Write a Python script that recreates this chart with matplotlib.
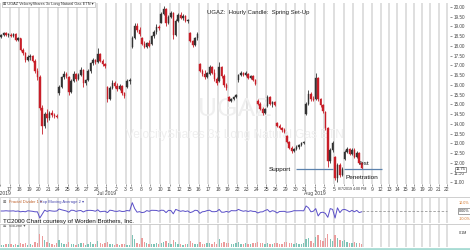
import matplotlib
matplotlib.use('Agg')
import matplotlib.pyplot as plt
import matplotlib.transforms as mtrans
import numpy as np

plt.rcParams['font.family'] = ['Liberation Sans', 'DejaVu Sans']

# ---------------- data ----------------
data_days = ['6/14', '6/17', '6/18', '6/19', '6/20', '6/21', '6/24', '6/25', '6/26', '6/27', '6/28',
             '7/1', '7/2', '7/3', '7/5', '7/8', '7/9', '7/10', '7/11', '7/12', '7/15', '7/16', '7/17',
             '7/18', '7/19', '7/22', '7/23', '7/24', '7/25', '7/26', '7/29', '7/30', '7/31', '8/1',
             '8/2', '8/5', '8/6', '8/7']
day_hours = [7] * 13 + [4] + [7] * 24          # hourly bars per session (7/3 half day)
day_candles = [4] * 13 + [2] + [4] * 24        # candles drawn per session
future_days = ['8/8', '8/9', '8/12', '8/13', '8/14', '8/15', '8/16', '8/19', '8/20', '8/21', '8/22']
future_hours = [7, 6, 6, 6, 6, 6, 6, 6, 6, 6, 6]
hidden_day_labels = ['6/14', '8/6', '8/7', '8/8']

opens = [18.45, 18.55, 18.65, 18.55,  18.55, 18.50, 18.60, 18.30,  18.40, 17.80, 17.65, 17.30,
         17.45, 17.50, 17.25, 16.70,  16.40, 14.80, 13.90, 14.50,  14.30, 14.55, 14.45, 14.40,
         15.60, 15.90, 16.40, 16.55,  16.40, 15.65, 16.20, 16.55,  16.30, 16.50, 16.75, 16.10,
         16.25, 16.70, 17.10, 17.30,  17.15, 17.60, 17.25, 17.05,  15.90, 15.30, 15.85, 16.10,
         15.95, 15.80, 15.95, 15.60,  15.90, 16.20,  17.95, 18.40, 19.00, 18.80,
         18.40, 18.10, 17.95, 18.15,  18.10, 18.50, 18.70, 18.95,  19.20, 19.65, 19.90, 19.15,
         19.50, 19.70, 18.55, 19.30,  19.60, 19.45, 19.55, 19.30,  18.65, 18.25, 18.05, 18.40,
         17.05, 16.70, 16.55, 16.40,  16.55, 16.90, 16.60, 16.30,  16.20, 16.90, 16.45, 16.00,
         15.40, 15.20, 15.30, 15.40,  16.25, 16.50, 16.60, 16.50,  16.55, 16.35, 16.45, 16.25,
         15.20, 15.00, 14.75, 14.55,  14.90, 15.40, 15.00, 15.10,  14.05, 13.90, 13.80, 13.70,
         13.40, 13.05, 12.75, 12.60,  12.70, 12.80, 12.90, 13.00,  14.50, 15.00, 15.55, 15.30,
         15.30, 16.35, 15.30, 14.95,  14.60, 13.80, 12.10, 12.65,  12.30, 11.25, 11.90, 11.40,
         12.20, 12.55, 12.70, 12.45,  12.65, 12.30, 12.50, 12.00]
highs = [18.60, 18.70, 18.70, 18.65,  18.65, 18.65, 18.65, 18.45,  18.40, 17.90, 17.70, 17.55,
         17.60, 17.55, 17.35, 16.85,  16.50, 14.95, 14.60, 14.75,  14.65, 14.70, 14.55, 14.50,
         16.00, 16.45, 16.70, 16.65,  16.45, 16.30, 16.70, 16.60,  16.60, 16.90, 16.80, 16.30,
         16.80, 17.20, 17.40, 17.35,  17.90, 17.65, 17.35, 17.10,  15.95, 15.95, 16.25, 16.20,
         16.10, 16.05, 16.00, 15.65,  16.30, 16.35,  18.50, 19.20, 19.15, 18.95,
         18.45, 18.25, 18.20, 18.30,  18.55, 18.80, 19.10, 19.05,  19.75, 20.05, 19.95, 19.60,
         19.80, 19.75, 19.40, 19.70,  19.75, 19.65, 19.60, 19.40,  18.70, 18.30, 18.45, 18.70,
         17.10, 16.80, 16.75, 16.65,  17.00, 16.95, 16.80, 16.40,  17.15, 16.95, 16.55, 16.10,
         15.45, 15.35, 15.45, 15.55,  16.55, 16.70, 16.65, 16.70,  16.60, 16.50, 16.50, 16.30,
         15.30, 15.10, 14.85, 14.80,  15.50, 15.45, 15.15, 15.15,  14.10, 14.00, 13.85, 13.80,
         13.45, 13.10, 12.85, 12.75,  12.90, 12.95, 13.05, 13.10,  15.10, 15.75, 15.65, 15.45,
         16.60, 16.40, 15.35, 15.00,  14.65, 13.85, 12.75, 13.10,  12.35, 12.00, 12.00, 11.80,
         12.65, 12.80, 12.75, 12.75,  12.75, 12.60, 12.55, 12.05]
lows = [18.40, 18.50, 18.50, 18.45,  18.45, 18.45, 18.25, 18.25,  17.75, 17.55, 17.15, 17.25,
        17.30, 17.20, 16.60, 16.25,  14.70, 13.50, 13.80, 14.10,  14.20, 14.35, 14.30, 14.30,
        15.50, 15.85, 16.30, 16.35,  15.50, 15.60, 16.15, 16.20,  16.25, 16.45, 15.90, 16.00,
        16.20, 16.60, 17.00, 17.05,  17.10, 17.15, 16.95, 16.85,  15.10, 15.25, 15.80, 15.85,
        15.70, 15.75, 15.50, 15.35,  15.85, 16.05,  17.90, 18.35, 18.70, 18.50,
        18.05, 17.90, 17.90, 17.95,  18.05, 18.40, 18.60, 18.80,  19.15, 19.60, 19.00, 19.10,
        19.45, 18.35, 18.50, 19.25,  19.40, 19.35, 19.25, 19.20,  18.20, 17.95, 18.00, 18.30,
        16.65, 16.45, 16.30, 16.35,  16.50, 16.55, 16.20, 16.00,  16.15, 16.35, 15.90, 15.75,
        15.15, 15.10, 15.25, 15.35,  16.15, 16.45, 16.45, 16.45,  16.30, 16.30, 16.20, 16.00,
        14.95, 14.70, 14.45, 14.50,  14.85, 14.95, 14.85, 14.90,  13.85, 13.75, 13.60, 13.55,
        13.00, 12.70, 12.50, 12.55,  12.65, 12.70, 12.85, 12.95,  14.45, 14.95, 15.20, 15.15,
        15.25, 15.20, 14.85, 14.55,  13.70, 11.80, 12.00, 12.55,  11.10, 11.00, 11.30, 11.35,
        12.15, 12.50, 12.40, 12.40,  12.25, 12.25, 11.95, 11.70]
closes = [18.55, 18.65, 18.55, 18.60,  18.50, 18.60, 18.30, 18.40,  17.80, 17.65, 17.30, 17.45,
          17.50, 17.25, 16.70, 16.40,  14.80, 13.90, 14.50, 14.30,  14.55, 14.45, 14.40, 14.35,
          15.90, 16.40, 16.55, 16.45,  15.65, 16.20, 16.55, 16.30,  16.50, 16.75, 16.10, 16.25,
          16.70, 17.10, 17.30, 17.15,  17.60, 17.25, 17.05, 16.95,  15.30, 15.85, 16.10, 15.95,
          15.80, 15.95, 15.60, 15.45,  16.20, 16.25,  18.40, 19.00, 18.80, 18.60,
          18.10, 17.95, 18.15, 18.00,  18.50, 18.70, 18.95, 18.90,  19.65, 19.90, 19.15, 19.50,
          19.70, 18.55, 19.30, 19.60,  19.45, 19.55, 19.30, 19.35,  18.25, 18.05, 18.40, 18.60,
          16.70, 16.55, 16.40, 16.60,  16.90, 16.60, 16.30, 16.10,  16.90, 16.45, 16.00, 15.85,
          15.20, 15.30, 15.40, 15.50,  16.50, 16.60, 16.50, 16.60,  16.35, 16.45, 16.25, 16.05,
          15.00, 14.75, 14.55, 14.75,  15.40, 15.00, 15.10, 14.95,  13.90, 13.80, 13.70, 13.60,
          13.05, 12.75, 12.60, 12.70,  12.80, 12.90, 13.00, 13.05,  15.00, 15.55, 15.30, 15.25,
          16.35, 15.30, 14.95, 14.65,  13.80, 12.10, 12.65, 13.00,  11.25, 11.90, 11.40, 11.70,
          12.55, 12.70, 12.45, 12.65,  12.30, 12.50, 12.00, 11.75]
volume_k = [250, 200, 300, 350,  300, 200, 350, 250,  450, 300, 400, 250,  300, 250, 500, 450,
            1350, 1100, 700, 500,  450, 300, 250, 400,  700, 450, 350, 300,  500, 350, 300, 250,
            300, 400, 450, 250,  350, 500, 350, 300,  600, 400, 350, 450,  550, 350, 300, 250,
            300, 250, 300, 350,  250, 200,  1200, 800, 450, 350,  900, 500, 400, 350,
            350, 300, 450, 300,  400, 500, 600, 400,  350, 700, 500, 300,  300, 250, 300, 350,
            600, 400, 350, 300,  550, 350, 300, 450,  400, 350, 500, 300,  800, 450, 500, 400,
            400, 300, 350, 450,  500, 350, 300, 400,  350, 300, 400, 450,  500, 450, 400, 350,
            450, 350, 300, 400,  400, 350, 300, 500,  550, 450, 400, 350,  400, 350, 300, 450,
            800, 900, 600, 400,  1000, 1200, 700, 650,  900, 1300, 800, 600,  1200, 900, 700, 600,
            700, 500, 400, 450,  500, 400, 450, 350]
indicator_pct = [0, 0, 0.3, 0,  0, 0.2, -0.4, 0,  -1, -0.5, -1, 0.3,  0, -0.4, -1, -1,
                 -8.8, -4, 1, -0.5,  0.5, 0, -0.3, 0,  2.5, 1.5, 0.8, 0,  -1.5, 1, 0.8, -0.5,
                 0.3, 0.6, -1.2, 0.2,  0.8, 0.8, 0.5, -0.3,  1.5, -1, -0.5, -0.3,  -2, 1, 0.6, -0.3,
                 -0.5, 0.3, -0.6, -0.5,  0.6, 0.1,  10.4, 3, -1.5, -0.8,  -2, -1.5, 0.5, -0.4,
                 0.9, 0.8, 0.7, -0.2,  1, 0.8, -2, 0.8,  0.6, -3.5, 2, 0.8,  -0.4, 0.3, -0.6, 0.1,
                 -2, -1, 0.9, 0.6,  -3, -1, -0.6, 0.5,  1, -0.8, -0.9, -0.5,  2, -1.5, -1.5, -0.5,
                 -1.5, 0.5, 0.3, 0.3,  2, 0.6, -0.3, 0.3,  -0.6, 0.3, -0.5, -0.6,  -2.5, -1.2, -1, 0.6,
                 1.8, -1.2, 0.4, -0.4,  -2.5, -0.6, -0.5, -0.4,  -1.5, -1.2, -0.6, 0.4,  0.3, 0.4, 0.4, 0.2,
                 6.3, 4, -1, -0.3,  3, -6.2, -2, -1.5,  -3, -7.9, 3, 2,  -8.8, 4, -2, 1.5,
                 2, 0.8, -1, 0.8,  -1, 0.8, -2, -1]
support_level = 11.68
price_ticks = [11.0, 11.5, 12.0, 12.5, 13.0, 13.5, 14.0, 14.5, 15.0, 15.5, 16.0, 16.5,
               17.0, 17.5, 18.0, 18.5, 19.0, 19.5, 20.0]
month_names = {'6': 'Jun 2019', '7': 'Jul 2019', '8': 'Aug 2019'}

# ---------------- layout helpers ----------------
W, H = 470, 250
def fx(px): return px / W
def fy(py): return 1 - py / H

RED = '#c81e28'
DARK = '#333333'
GRID = '#d6d6d6'

# session start positions in hourly-bar units
starts = []
pos = -7
for h in day_hours:
    starts.append(pos)
    pos += h
fstarts = []
for h in future_hours:
    fstarts.append(pos)
    pos += h

cx, cw = [], []
for s, h, n in zip(starts, day_hours, day_candles):
    step = h / n
    for k in range(n):
        cx.append(s + (k + 0.5) * step)
        cw.append(step)
cx = np.array(cx); cw = np.array(cw)
o = np.array(opens); c = np.array(closes); hi = np.array(highs); lo = np.array(lows)
up = c >= o
col = np.where(up, DARK, RED)

XMIN, XMAX = -5.26, 319.2

fig = plt.figure(figsize=(W / 100, H / 100), dpi=100)
fig.patch.set_facecolor('white')

ax = fig.add_axes([0, fy(184), fx(450), (184 - 3) / H])
ax2 = fig.add_axes([0, fy(223), fx(450), 25 / H], sharex=ax)
ax3 = fig.add_axes([0, fy(247), fx(450), 23 / H], sharex=ax)

all_starts = starts + fstarts
for a in (ax, ax2, ax3):
    for s in all_starts:
        a.axvline(s, color=GRID, lw=1.1, zorder=0)
    for sp in a.spines.values():
        sp.set_visible(False)
    a.set_xlim(XMIN, XMAX)
    a.set_facecolor('white')

# ---- main price panel ----
ax.vlines(cx, lo, hi, colors=col, lw=0.6, zorder=3)
ax.bar(cx, np.maximum(np.abs(c - o), 0.03), bottom=np.minimum(o, c), width=cw * 0.62,
       color=col, edgecolor=col, linewidth=0.3, zorder=4)
YMIN, YMAX = 10.92, 20.2
ax.set_ylim(YMIN, YMAX)
ax.yaxis.tick_right()
ax.set_yticks(price_ticks)
ax.set_yticklabels(['%.2f' % t for t in price_ticks])
ax.tick_params(axis='y', labelsize=3.3, length=1.5, width=0.4, pad=1.5, colors='#444444')

labels = []
for d in data_days + future_days:
    labels.append('' if d in hidden_day_labels else d.split('/')[1])
ax.set_xticks(all_starts)
ax.set_xticklabels(labels)
ax.tick_params(axis='x', labelsize=3.6, length=1.5, width=0.4, pad=1, colors='#444444')

# watermark
ax.text(0.522, 0.414, 'UGAZ', transform=ax.transAxes, ha='center', va='center',
        fontsize=19, color='#efefef', zorder=0)
ax.text(0.522, 0.271, 'VelocityShares 3x Long Natural Gas ETN', transform=ax.transAxes,
        ha='center', va='center', fontsize=8.6, color='#efefef', zorder=0)

ax.text(0.573, 0.948, 'UGAZ:  Hourly Candle:  Spring Set-Up', transform=ax.transAxes,
        ha='center', va='center', fontsize=4.3, color='#222222')

# support annotations
seg_a = (starts[data_days.index('7/30')] + 0.5, starts[data_days.index('8/5')] - 0.8)
seg_b = (starts[data_days.index('8/6')], fstarts[future_days.index('8/12')] + 1)
ax.hlines(support_level, *seg_a, colors='#5b82ad', lw=0.9, zorder=5)
ax.hlines(support_level, *seg_b, colors='#5b82ad', lw=0.9, zorder=5)
ax.text(seg_a[0] - 3.5, support_level, 'Support', ha='right', va='center', fontsize=4.6, color='#111111')
ax.text(starts[data_days.index('8/7')] + 3.5, support_level + 0.28, 'Test', ha='left', va='center',
        fontsize=4.6, color='#111111')
ax.text(starts[data_days.index('8/6')] + 1.5, support_level - 0.42, 'Penetration', ha='left',
        va='center', fontsize=4.6, color='#111111')

# current price box on the axis
ax.text(1.012, (support_level - YMIN) / (YMAX - YMIN), '%.2f' % closes[-1], transform=ax.transAxes,
        ha='left', va='center', fontsize=3.0, color='#222222',
        bbox=dict(boxstyle='square,pad=0.15', fc='white', ec='#555555', lw=0.4), clip_on=False)

# crosshair date label
ax.text(starts[data_days.index('8/5')] + 3, -0.016, '8/7/2019 4:00 PM',
        transform=mtrans.blended_transform_factory(ax.transData, ax.transAxes),
        ha='left', va='top', fontsize=2.6, color='#333333', zorder=10, clip_on=False,
        bbox=dict(boxstyle='square,pad=0.3', fc='white', ec='none'))

# month labels
btr = mtrans.blended_transform_factory(ax.transData, fig.transFigure)
prev = None
for d, s in zip(data_days, starts):
    m = d.split('/')[0]
    if m != prev:
        ax.text(s, fy(193.5), month_names[m], transform=btr, ha='center', va='center',
                fontsize=3.6, color='#444444', clip_on=False)
        prev = m

# top-left symbol label
fig.text(fx(3), fy(4.5), '\u229e UGAZ VelocityShares 3x Long Natural Gas ETN \u25be', fontsize=2.8,
         color='#333333', ha='left', va='center',
         bbox=dict(boxstyle='square,pad=0.25', fc='white', ec='#aaaaaa', lw=0.4))

# ---- indicator panel ----
ax2.plot(cx, indicator_pct, color='#5a4fc8', lw=0.7, zorder=3)
ax2.plot([cx[-1], fstarts[-1]], [0, 0], color='#999999', lw=0.6, ls=(0, (3, 2)), zorder=2)
ax2.set_ylim(-15, 16.25)
ax2.set_yticks([])
ax2.tick_params(axis='x', length=0, labelbottom=False)
ax2.text(0.006, 0.93, '\u229e', transform=ax2.transAxes, fontsize=3, color='#555555', va='top')
ax2.text(0.02, 0.93, 'Fractal Divider 1 \u25be', transform=ax2.transAxes, fontsize=3,
         color='#c0602a', va='top')
ax2.text(0.09, 0.93, 'Exp Moving Average 2 \u25be', transform=ax2.transAxes, fontsize=3,
         color='#4848b0', va='top')
t2 = mtrans.blended_transform_factory(ax2.transAxes, ax2.transData)
ax2.text(1.02, 10, '10.0%', transform=t2, fontsize=2.7, color='#d07020', va='center', clip_on=False)
ax2.text(1.02, -10, '-10.0%', transform=t2, fontsize=2.7, color='#d07020', va='center', clip_on=False)
ax2.text(1.02, 0, '0.00%', transform=t2, fontsize=2.7, color='#222222', va='center', clip_on=False,
         bbox=dict(boxstyle='square,pad=0.15', fc='white', ec='#555555', lw=0.4))

# ---- volume panel ----
vcol = np.where(up, '#7fc4b6', '#eb9c9c')
ax3.bar(cx, volume_k, width=cw * 0.55, color=vcol, zorder=3)
ax3.set_ylim(0, 2300)
ax3.set_yticks([])
ax3.tick_params(axis='x', length=0, labelbottom=False)
ax3.text(0.006, 0.98, '\u229e  Volume \u25be', transform=ax3.transAxes, fontsize=3,
         color='#555555', va='top')
ax3.text(1.02, 0.62, '0.1M', transform=ax3.transAxes, fontsize=2.7, color='#333333',
         va='center', clip_on=False)

# separators
for py, colr, lw in [(197, '#c8c8c8', 0.6), (223.5, '#c8c8c8', 0.6), (248.5, '#a8dcd4', 2.0)]:
    fig.add_artist(plt.Line2D([0, 1], [fy(py), fy(py)], transform=fig.transFigure, color=colr, lw=lw))

fig.text(fx(3), fy(221.5), 'TC2000 Chart courtesy of Worden Brothers, Inc.', fontsize=4.4,
         color='#111111', ha='left', va='center')

fig.savefig('out.png', dpi=100, facecolor='white')
